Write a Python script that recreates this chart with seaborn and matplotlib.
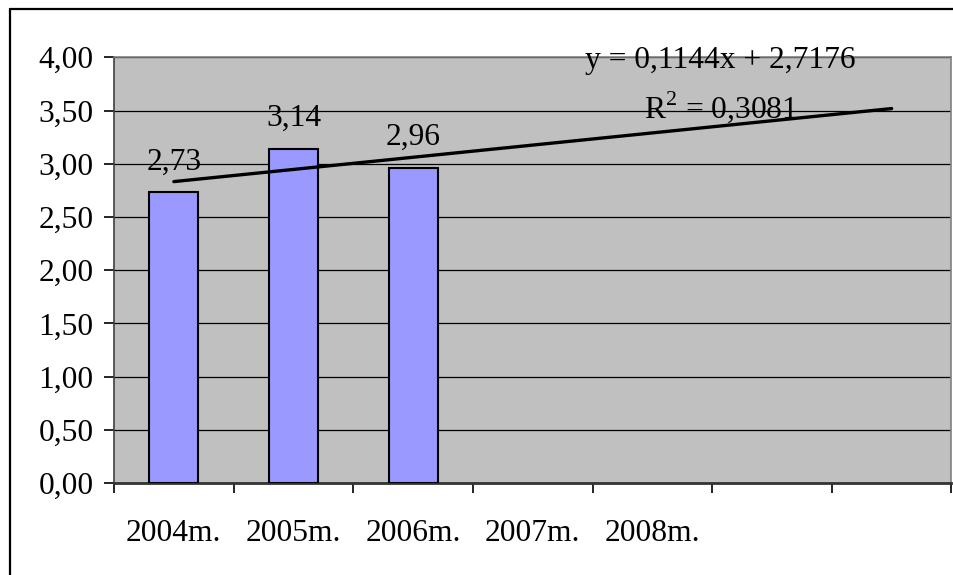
import matplotlib
matplotlib.use("Agg")
import matplotlib.pyplot as plt
import seaborn as sns
import numpy as np
import pandas as pd
from matplotlib.lines import Line2D

# ---- data ----
categories = ["2004m.", "2005m.", "2006m.", "2007m.", "2008m."]
bar_categories = ["2004m.", "2005m.", "2006m."]
values = [2.73, 3.14, 2.96]
value_labels = ["2,73", "3,14", "2,96"]
n_slots = 7
trend_slope = 0.1144
trend_intercept = 2.7176
trend_x = [1, 2, 3, 4, 5, 6, 7]
eq_text = "y = 0,1144x + 2,7176"
r2_text = "R$^2$ = 0,3081"
y_ticks = [0, 0.5, 1.0, 1.5, 2.0, 2.5, 3.0, 3.5, 4.0]
y_tick_labels = ["0,00", "0,50", "1,00", "1,50", "2,00", "2,50", "3,00", "3,50", "4,00"]

sns.set_style("white")
plt.rcParams["font.family"] = ["Liberation Serif", "DejaVu Serif"]
plt.rcParams["mathtext.fontset"] = "custom"
plt.rcParams["mathtext.rm"] = "Liberation Serif"
plt.rcParams["text.color"] = "black"
plt.rcParams["xtick.color"] = "black"
plt.rcParams["ytick.color"] = "black"
plt.rcParams["xtick.labelcolor"] = "black"
plt.rcParams["ytick.labelcolor"] = "black"

FS = 22.7

fig = plt.figure(figsize=(9.54, 5.75), dpi=100)
ax = fig.add_axes([114 / 954, 92 / 575, (951.5 - 114) / 954, (483 - 57.3) / 575])
ax.set_facecolor("#C0C0C0")

df = pd.DataFrame({"cat": bar_categories, "val": values})
sns.barplot(data=df, x="cat", y="val", color="#9999FF", saturation=1,
            edgecolor="black", linewidth=1.5, width=0.41, ax=ax, zorder=3)

ax.set_ylim(0, 4)
ax.set_yticks(y_ticks)
ax.set_yticklabels(y_tick_labels, fontsize=FS, color="black")
ax.yaxis.grid(True, color="black", linewidth=0.9, zorder=1)
ax.set_axisbelow(True)

ax.set_xlim(-0.5, n_slots - 0.5)
ax.set_xticks(np.arange(-0.5, n_slots, 1.0))
ax.set_xticklabels([""] * (n_slots + 1))
ax.set_xticks(np.arange(len(categories)), minor=True)
ax.set_xticklabels(categories, minor=True, fontsize=FS, color="black")
ax.tick_params(axis="x", which="major", direction="out", length=7.5, width=1.2, color="black", bottom=True)
ax.tick_params(axis="x", which="minor", length=0, pad=26)
ax.tick_params(axis="y", direction="out", length=7.5, width=1.2, color="black", left=True, pad=7)
ax.set_xlabel("")
ax.set_ylabel("")

for s in ["top", "right"]:
    ax.spines[s].set_color("#808080")
    ax.spines[s].set_linewidth(1.2)
ax.spines["left"].set_color("#404040")
ax.spines["left"].set_linewidth(1.2)
ax.spines["bottom"].set_color("#333333")
ax.spines["bottom"].set_linewidth(2.0)

# value labels
for i, (v, lab) in enumerate(zip(values, value_labels)):
    ax.text(i, v + 0.215, lab, ha="center", va="baseline", fontsize=FS, color="black", zorder=5)

# trendline
tx = np.array(trend_x)
ty = trend_slope * tx + trend_intercept
ax.plot(tx - 1, ty, color="black", linewidth=2.4, zorder=4, solid_capstyle="round")

ax.text(4.57, 3.9, eq_text, ha="center", va="baseline", fontsize=FS, color="black", zorder=5)
ax.text(4.57, 3.43, r2_text, ha="center", va="baseline", fontsize=FS, color="black", zorder=5)

# outer chart border (top and left visible)
fig.add_artist(Line2D([10 / 954, 10 / 954], [0, 1 - 9 / 575], transform=fig.transFigure,
                      color="black", linewidth=1.6))
fig.add_artist(Line2D([10 / 954, 1], [1 - 9 / 575, 1 - 9 / 575], transform=fig.transFigure,
                      color="black", linewidth=1.6))

fig.savefig("out.png", dpi=100)
